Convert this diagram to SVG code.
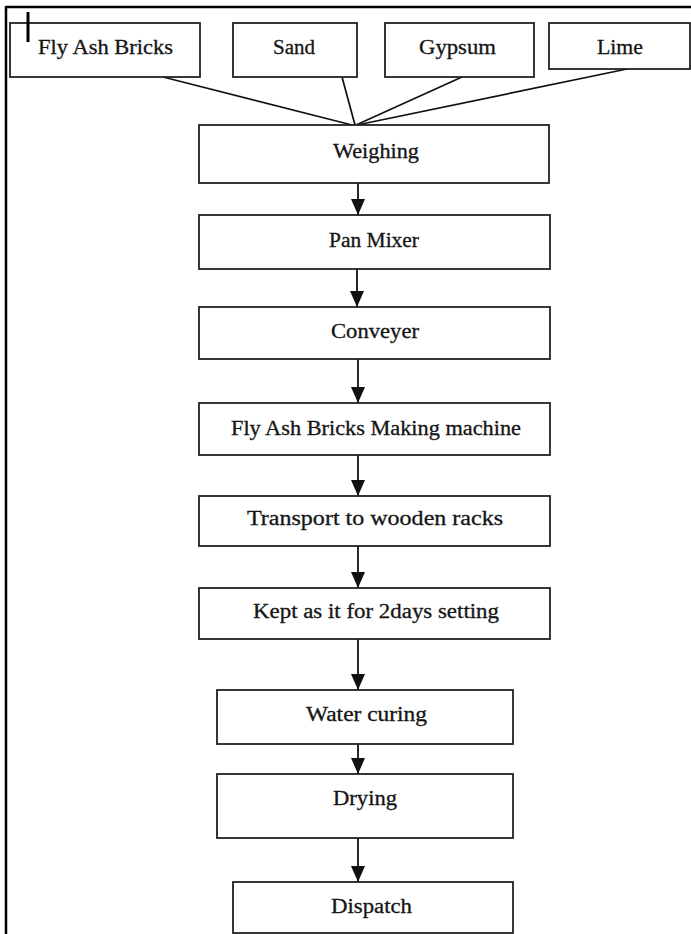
<svg xmlns="http://www.w3.org/2000/svg" width="691" height="934" viewBox="0 0 691 934">
<style>
.box{fill:#fff;stroke:#222;stroke-width:1.8}
.lbl{font-family:"Liberation Serif","DejaVu Serif",serif;font-size:20px;fill:#151515;stroke:#151515;stroke-width:0.3;text-anchor:middle}
.conn{stroke:#111;stroke-width:1.7;fill:none}
.arr{stroke:#111;stroke-width:1.8;fill:none;marker-end:url(#ah)}
</style>
<defs>
<marker id="ah" viewBox="0 0 16 14" refX="16" refY="7" markerWidth="16" markerHeight="14" markerUnits="userSpaceOnUse" orient="auto">
<path d="M0,0 L16,7 L0,14 Z" fill="#111"/>
</marker>
</defs>
<rect width="691" height="934" fill="#fff"/>
<g id="frame">
<line x1="6" y1="7" x2="691" y2="7" stroke="#000" stroke-width="2.5"/>
<line x1="6" y1="6" x2="6" y2="934" stroke="#000" stroke-width="2.5"/>
</g>
<g id="connectors">
<line class="conn" x1="163" y1="77" x2="352" y2="125"/>
<line class="conn" x1="342" y1="77" x2="355" y2="125"/>
<line class="conn" x1="462" y1="77" x2="356" y2="125"/>
<line class="conn" x1="627" y1="69" x2="357" y2="125"/>
<line class="arr" x1="358" y1="183" x2="358" y2="215"/>
<line class="arr" x1="357" y1="269" x2="357" y2="307"/>
<line class="arr" x1="358" y1="359" x2="358" y2="403"/>
<line class="arr" x1="358" y1="455" x2="358" y2="496"/>
<line class="arr" x1="358" y1="546" x2="358" y2="588"/>
<line class="arr" x1="358" y1="639" x2="358" y2="690"/>
<line class="arr" x1="358" y1="744" x2="358" y2="774"/>
<line class="arr" x1="358" y1="838" x2="358" y2="882"/>
</g>
<g id="fly-ash">
<rect class="box" x="10" y="23" width="190" height="54"/>
<text class="lbl" x="105.5" y="54" textLength="135" lengthAdjust="spacingAndGlyphs">Fly Ash Bricks</text>
</g>
<g id="sand">
<rect class="box" x="233" y="23" width="124" height="54"/>
<text class="lbl" x="294" y="54" textLength="42" lengthAdjust="spacingAndGlyphs">Sand</text>
</g>
<g id="gypsum">
<rect class="box" x="385" y="23" width="149" height="54"/>
<text class="lbl" x="457.5" y="54" textLength="77" lengthAdjust="spacingAndGlyphs">Gypsum</text>
</g>
<g id="lime">
<rect class="box" x="549" y="23" width="141" height="46"/>
<text class="lbl" x="620" y="54" textLength="46" lengthAdjust="spacingAndGlyphs">Lime</text>
</g>
<g id="cursor">
<line x1="28" y1="12" x2="28" y2="42" stroke="#000" stroke-width="3"/>
</g>
<g id="weighing">
<rect class="box" x="199" y="125" width="350" height="58"/>
<text class="lbl" x="376" y="158" textLength="86" lengthAdjust="spacingAndGlyphs">Weighing</text>
</g>
<g id="pan-mixer">
<rect class="box" x="199" y="215" width="351" height="54"/>
<text class="lbl" x="374" y="247" textLength="90" lengthAdjust="spacingAndGlyphs">Pan Mixer</text>
</g>
<g id="conveyer">
<rect class="box" x="199" y="307" width="351" height="52"/>
<text class="lbl" x="375" y="338" textLength="88" lengthAdjust="spacingAndGlyphs">Conveyer</text>
</g>
<g id="making-machine">
<rect class="box" x="199" y="403" width="351" height="52"/>
<text class="lbl" x="376" y="435" textLength="290" lengthAdjust="spacingAndGlyphs">Fly Ash Bricks Making machine</text>
</g>
<g id="transport">
<rect class="box" x="199" y="496" width="351" height="50"/>
<text class="lbl" x="375" y="525" textLength="256" lengthAdjust="spacingAndGlyphs">Transport to wooden racks</text>
</g>
<g id="kept">
<rect class="box" x="199" y="588" width="351" height="51"/>
<text class="lbl" x="376" y="618" textLength="246" lengthAdjust="spacingAndGlyphs">Kept as it for 2days setting</text>
</g>
<g id="water-curing">
<rect class="box" x="217" y="690" width="296" height="54"/>
<text class="lbl" x="366.5" y="721" textLength="121" lengthAdjust="spacingAndGlyphs">Water curing</text>
</g>
<g id="drying">
<rect class="box" x="217" y="774" width="296" height="64"/>
<text class="lbl" x="365" y="805" textLength="64" lengthAdjust="spacingAndGlyphs">Drying</text>
</g>
<g id="dispatch">
<rect class="box" x="233" y="882" width="280" height="51"/>
<text class="lbl" x="371.5" y="913" textLength="81" lengthAdjust="spacingAndGlyphs">Dispatch</text>
</g>
</svg>
